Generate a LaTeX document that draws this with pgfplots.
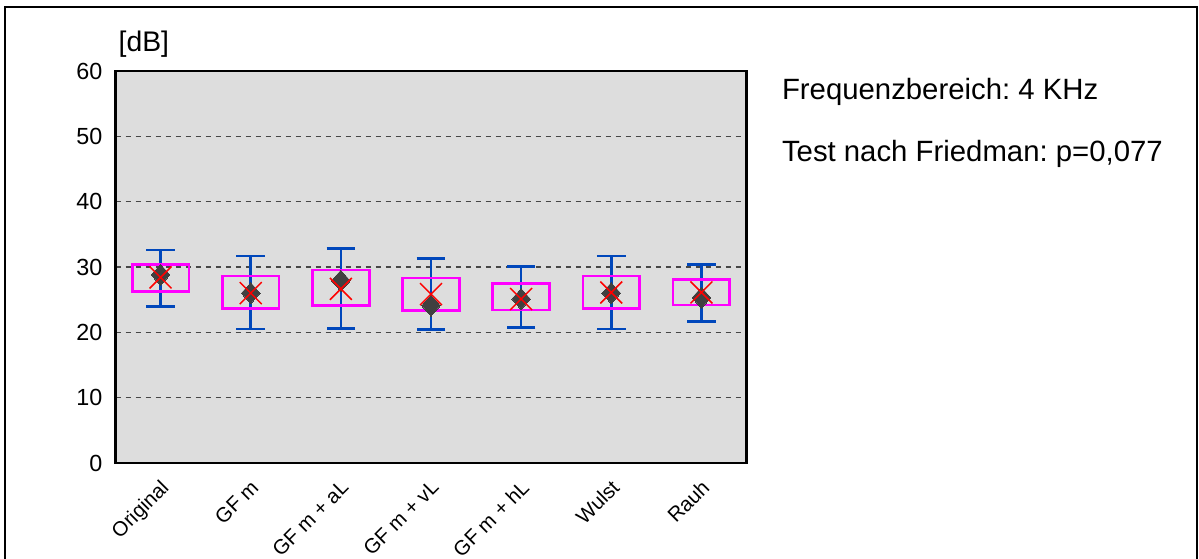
\documentclass[border=0pt]{standalone}
\usepackage{pgfplots}
\pgfplotsset{compat=1.18}
\usepackage{pgfplotstable}
\usepackage{fontspec}
\setmainfont{Liberation Sans}
\frenchspacing
\definecolor{bggray}{RGB}{221,221,221}
\definecolor{wblue}{RGB}{0,71,187}
\definecolor{boxmag}{RGB}{255,0,255}
\definecolor{diagray}{RGB}{64,64,64}
\definecolor{gridgray}{RGB}{70,70,70}

\pgfplotstableread{
x lo q1 q3 hi dia cross
0 24.0 26.2 30.35 32.6 28.8 28.4
1 20.5 23.65 28.6 31.7 26.0 26.0
2 20.6 24.1 29.55 32.8 27.9 26.65
3 20.4 23.3 28.3 31.3 24.1 25.85
4 20.7 23.4 27.5 30.05 25.1 25.1
5 20.5 23.65 28.6 31.7 26.0 26.1
6 21.7 24.2 28.1 30.4 25.3 26.1
}\data

\begin{document}
\begin{tikzpicture}
\path[use as bounding box] (0,0) rectangle (719.4pt,334.8pt);
\draw[line width=1.6pt] (3pt,-5pt) -- (3pt,330.6pt) -- (718.2pt,330.6pt) -- (718.2pt,-5pt);
\begin{axis}[
  scale only axis,
  width=378.6pt, height=235.2pt,
  at={(69.3pt,57pt)}, anchor=south west,
  xmin=-0.5, xmax=6.5, ymin=0, ymax=60,
  ytick={0,10,...,60},
  xtick={0,...,6},
  xticklabels={Original,GF m,GF m + aL,GF m + vL,GF m + hL,Wulst,Rauh},
  major tick length=0pt,
  /pgf/number format/assume math mode=true,
  yticklabel style={font=\fontsize{14}{16}\selectfont, xshift=-4.3pt},
  xticklabel style={font=\fontsize{12.3}{14}\selectfont, rotate=45, anchor=north east, inner sep=2pt, yshift=-4pt, xshift=-5pt},
  axis background/.style={fill=bggray},
  axis line style={line width=1.6pt},
  ymajorgrids,
  grid style={gridgray, line width=0.7pt, dash pattern=on 3pt off 3pt},
  clip=false,
]
% whiskers
\addplot[draw=none, forget plot,
  error bars/.cd, y dir=both, y explicit, error mark=|,
  error bar style={draw=wblue, solid, line width=1.6pt},
  error mark options={draw=wblue, solid, line width=1.6pt, mark size=8.6pt}]
  table[x=x, y expr={(\thisrow{lo}+\thisrow{hi})/2}, y error expr={(\thisrow{hi}-\thisrow{lo})/2}] {\data};
% boxes
\pgfplotsset{boxst/.style={draw=boxmag, line width=1.6pt, line join=miter, mark=none, forget plot}}
\addplot[boxst] coordinates {(-0.315,26.2) (0.315,26.2) (0.315,30.35) (-0.315,30.35) (-0.315,26.2) (0.315,26.2)};
\addplot[boxst] coordinates {(0.685,23.65) (1.315,23.65) (1.315,28.6) (0.685,28.6) (0.685,23.65) (1.315,23.65)};
\addplot[boxst] coordinates {(1.685,24.1) (2.315,24.1) (2.315,29.55) (1.685,29.55) (1.685,24.1) (2.315,24.1)};
\addplot[boxst] coordinates {(2.685,23.3) (3.315,23.3) (3.315,28.3) (2.685,28.3) (2.685,23.3) (3.315,23.3)};
\addplot[boxst] coordinates {(3.685,23.4) (4.315,23.4) (4.315,27.5) (3.685,27.5) (3.685,23.4) (4.315,23.4)};
\addplot[boxst] coordinates {(4.685,23.65) (5.315,23.65) (5.315,28.6) (4.685,28.6) (4.685,23.65) (5.315,23.65)};
\addplot[boxst] coordinates {(5.685,24.2) (6.315,24.2) (6.315,28.1) (5.685,28.1) (5.685,24.2) (6.315,24.2)};
% diamonds
\addplot[only marks, mark=diamond*, mark size=6.3pt, mark options={fill=diagray, draw=diagray, xscale=1.18, line width=0pt}] table[x=x, y=dia] {\data};
% crosses
\addplot[only marks, mark=x, mark size=9.3pt, mark options={draw=red, line width=0.9pt}] table[x=x, y=cross] {\data};
\end{axis}
\node[anchor=base west, inner sep=0pt, font=\fontsize{17}{20}\selectfont] at (71pt,303.8pt) {[dB]};
\node[anchor=base west, inner sep=0pt, font=\fontsize{17.6}{20}\selectfont] at (469pt,274.8pt) {Frequenzbereich: 4 KHz};
\node[anchor=base west, inner sep=0pt, font=\fontsize{17.6}{20}\selectfont] at (469pt,237.8pt) {Test nach Friedman: p=0,077};
\end{tikzpicture}
\end{document}
